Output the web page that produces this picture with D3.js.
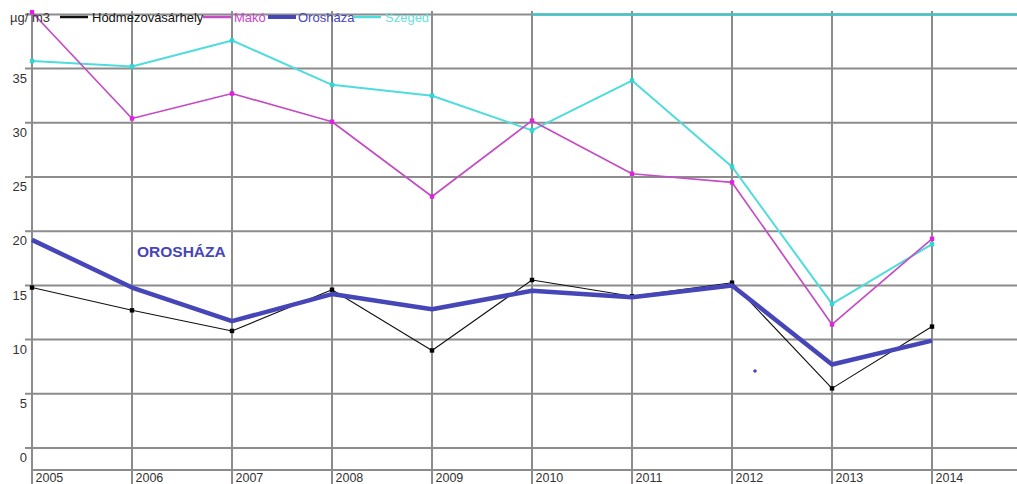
<!DOCTYPE html>
<html><head><meta charset="utf-8">
<script src="https://cdn.jsdelivr.net/npm/d3@7"></script>
<style>
html,body{margin:0;padding:0;background:#fff;}
svg{display:block;font-family:"Liberation Sans",Arial,sans-serif;}
</style></head>
<body><svg id="c" width="1017" height="484"></svg>
<script>
const years = [2005,2006,2007,2008,2009,2010,2011,2012,2013,2014];
const yTicks = [0,5,10,15,20,25,30,35];
const unitLabel = "µg/ m3";
const seriesNames = ["Hódmezovásárhely","Makó","Orosháza","Szeged"];
const hodmezovasarhely = [14.8,12.7,10.8,14.6,9.0,15.5,14.0,15.25,5.5,11.2];
const mako = [40.2,30.4,32.7,30.1,23.2,30.2,25.3,24.5,11.4,19.3];
const oroshaza = [19.2,14.8,11.7,14.2,12.8,14.5,13.9,15.0,7.7,9.9];
const szeged = [35.7,35.2,37.6,33.5,32.5,29.3,33.9,25.95,13.3,18.8];
const annotationText = "OROSHÁZA";
const strayDot = {year:2012.23, value:7.1};

const svg = d3.select("#c");
const W = 1017, H = 484;
const x = d3.scaleLinear().domain([2005,2015]).range([32,1032]);
const y = d3.scaleLinear().domain([0,40]).range([448,14.4]);
const grid = "#8c8c8c";

// horizontal gridlines (including 40 at top)
const hLines = yTicks.concat([40]);
svg.append("g").selectAll("line").data(hLines).join("line")
  .attr("x1",25).attr("x2",W).attr("y1",d=>y(d)).attr("y2",d=>y(d))
  .attr("stroke",grid).attr("stroke-width",2);
// bottom axis line
svg.append("line").attr("x1",x(2005)).attr("x2",W).attr("y1",470).attr("y2",470)
  .attr("stroke",grid).attr("stroke-width",2);
// vertical gridlines
svg.append("g").selectAll("line").data(years).join("line")
  .attr("x1",d=>x(d)).attr("x2",d=>x(d)).attr("y1",11).attr("y2",H)
  .attr("stroke",grid).attr("stroke-width",2);
// teal overlay on top line
svg.append("line").attr("x1",x(2010)).attr("x2",W).attr("y1",y(40)).attr("y2",y(40))
  .attr("stroke","#45c4c4").attr("stroke-width",2.5);

// y labels
const yAxis = d3.axisLeft(y).tickValues(yTicks).tickSize(0).tickPadding(0);
const gy = svg.append("g").attr("transform","translate(27,0)").call(yAxis);
gy.select(".domain").remove();
gy.selectAll("text").attr("font-size",13).attr("fill","#333").attr("dy","1.05em")
  .attr("font-family","Liberation Sans, Arial, sans-serif");

// x labels
const xAxis = d3.axisBottom(x).tickValues(years).tickFormat(d3.format("d")).tickSize(0).tickPadding(0);
const gx = svg.append("g").attr("transform","translate(0,470)").call(xAxis);
gx.select(".domain").remove();
gx.selectAll("text").attr("font-size",12.5).attr("fill","#333").attr("text-anchor","start")
  .attr("dx",3).attr("dy","0.95em").attr("font-family","Liberation Sans, Arial, sans-serif");

// series
const series = [
  {name:seriesNames[3], vals:szeged, color:"#4fdcdc", w:2, marker:"#33d6d6"},
  {name:seriesNames[1], vals:mako, color:"#c44cc4", w:1.7, marker:"#dd22dd"},
  {name:seriesNames[2], vals:oroshaza, color:"#4646b8", w:4.5, marker:null},
  {name:seriesNames[0], vals:hodmezovasarhely, color:"#111", w:1.1, marker:"#000"}
];
const drawOrder = [series[0],series[1],series[3],series[2]];
const line = d3.line().x((d,i)=>x(years[i])).y(d=>y(d));
drawOrder.forEach(s=>{
  svg.append("path").datum(s.vals).attr("d",line).attr("fill","none")
    .attr("stroke",s.color).attr("stroke-width",s.w).attr("stroke-linejoin","round");
  if(s.marker){
    svg.append("g").selectAll("rect").data(s.vals).join("rect")
      .attr("x",(d,i)=>x(years[i])-2.2).attr("y",d=>y(d)-2.2)
      .attr("width",4.4).attr("height",4.4).attr("fill",s.marker);
  }
});

// annotation
svg.append("text").attr("x",x(2006.05)).attr("y",y(17.65)).text(annotationText)
  .attr("font-size",15.5).attr("font-weight","bold").attr("fill","#4646b8")
  .attr("font-family","Liberation Sans, Arial, sans-serif");
svg.append("circle").attr("cx",x(strayDot.year)).attr("cy",y(strayDot.value)).attr("r",1.8).attr("fill","#4646b8");

// legend
svg.append("text").attr("x",10).attr("y",22).text(unitLabel).attr("font-size",13).attr("fill","#333");
const legendItems = [
  {s:series[3], lx:60, tx:92, tc:"#111"},
  {s:series[1], lx:203, tx:234, tc:"#cc44cc"},
  {s:series[2], lx:268, tx:298, tc:"#4444bb"},
  {s:series[0], lx:353, tx:385, tc:"#66e0e0"}
];
legendItems.forEach(it=>{
  const s = it.s;
  svg.append("line").attr("x1",it.lx).attr("x2",it.lx+28).attr("y1",17).attr("y2",17)
    .attr("stroke",s.color).attr("stroke-width",s===series[2]?4:2.5);
  svg.append("text").attr("x",it.tx).attr("y",22).text(s.name).attr("font-size",13).attr("fill",it.tc);
});
</script></body></html>
